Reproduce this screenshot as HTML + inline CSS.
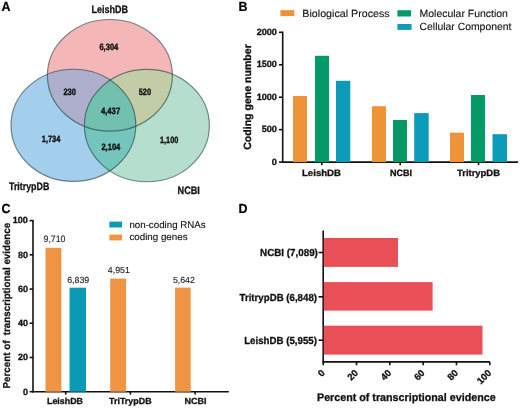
<!DOCTYPE html>
<html><head><meta charset="utf-8"><style>
html,body{margin:0;padding:0;background:#fff;}
svg{display:block;font-family:"Liberation Sans", sans-serif;will-change:transform;text-rendering:geometricPrecision;}
</style></head><body>
<svg width="520" height="408" viewBox="0 0 520 408">
<rect width="520" height="408" fill="#fff"/>
<defs>
<clipPath id="cp"><ellipse cx="109.9" cy="75.3" rx="62.5" ry="55.8" fill="#000" /></clipPath>
<clipPath id="cb"><ellipse cx="73.4" cy="125.3" rx="62.4" ry="56.1" fill="#000" /></clipPath>
<clipPath id="cg"><ellipse cx="146.9" cy="125.6" rx="62.5" ry="56.2" fill="#000" /></clipPath>
</defs>
<ellipse cx="109.9" cy="75.3" rx="62.5" ry="55.8" fill="#f5b6b7" />
<ellipse cx="73.4" cy="125.3" rx="62.4" ry="56.1" fill="#a3cfec" />
<ellipse cx="146.9" cy="125.6" rx="62.5" ry="56.2" fill="#b5dece" />
<g clip-path="url(#cp)"><ellipse cx="73.4" cy="125.3" rx="62.4" ry="56.1" fill="#adafcc" /><ellipse cx="146.9" cy="125.6" rx="62.5" ry="56.2" fill="#c2cca6" /></g>
<g clip-path="url(#cb)"><ellipse cx="146.9" cy="125.6" rx="62.5" ry="56.2" fill="#73c5be" /></g>
<g clip-path="url(#cp)"><g clip-path="url(#cb)"><ellipse cx="146.9" cy="125.6" rx="62.5" ry="56.2" fill="#72c0b0" /></g></g>
<ellipse cx="109.9" cy="75.3" rx="62.5" ry="55.8" fill="none" stroke="#1e3a40" stroke-opacity="0.6" stroke-width="1.15"/>
<ellipse cx="73.4" cy="125.3" rx="62.4" ry="56.1" fill="none" stroke="#1e3a40" stroke-opacity="0.6" stroke-width="1.15"/>
<ellipse cx="146.9" cy="125.6" rx="62.5" ry="56.2" fill="none" stroke="#1e3a40" stroke-opacity="0.6" stroke-width="1.15"/>
<text x="91.5" y="12.8" font-size="10.75" font-weight="bold" text-anchor="start" fill="#111" textLength="36.6" lengthAdjust="spacingAndGlyphs"  stroke="#111" stroke-width="0.3">LeishDB</text>
<text x="9.0" y="190.2" font-size="10.75" font-weight="bold" text-anchor="start" fill="#111" textLength="40.3" lengthAdjust="spacingAndGlyphs"  stroke="#111" stroke-width="0.3">TritrypDB</text>
<text x="177.6" y="194.2" font-size="10.75" font-weight="bold" text-anchor="start" fill="#111" textLength="22.3" lengthAdjust="spacingAndGlyphs"  stroke="#111" stroke-width="0.3">NCBI</text>
<text x="99.4" y="49.5" font-size="9.2" font-weight="bold" text-anchor="start" fill="#111" textLength="18.9" lengthAdjust="spacingAndGlyphs"  stroke="#111" stroke-width="0.4">6,304</text>
<text x="63.4" y="95.4" font-size="9.2" font-weight="bold" text-anchor="start" fill="#111" textLength="12.6" lengthAdjust="spacingAndGlyphs"  stroke="#111" stroke-width="0.4">230</text>
<text x="138.7" y="95.4" font-size="9.2" font-weight="bold" text-anchor="start" fill="#111" textLength="12.3" lengthAdjust="spacingAndGlyphs"  stroke="#111" stroke-width="0.4">520</text>
<text x="100.9" y="114.0" font-size="9.2" font-weight="bold" text-anchor="start" fill="#111" textLength="19.3" lengthAdjust="spacingAndGlyphs"  stroke="#111" stroke-width="0.4">4,437</text>
<text x="41.8" y="142.4" font-size="9.2" font-weight="bold" text-anchor="start" fill="#111" textLength="18.5" lengthAdjust="spacingAndGlyphs"  stroke="#111" stroke-width="0.4">1,734</text>
<text x="101.4" y="149.8" font-size="9.2" font-weight="bold" text-anchor="start" fill="#111" textLength="18.9" lengthAdjust="spacingAndGlyphs"  stroke="#111" stroke-width="0.4">2,104</text>
<text x="160.0" y="142.5" font-size="9.2" font-weight="bold" text-anchor="start" fill="#111" textLength="18.3" lengthAdjust="spacingAndGlyphs"  stroke="#111" stroke-width="0.4">1,100</text>
<text x="1.6" y="10.6" font-size="13.2" font-weight="bold" text-anchor="start" fill="#000" textLength="9.0" lengthAdjust="spacingAndGlyphs"  stroke="#000" stroke-width="0.2">A</text>
<text x="238.4" y="10.6" font-size="13.2" font-weight="bold" text-anchor="start" fill="#000" textLength="9.0" lengthAdjust="spacingAndGlyphs"  stroke="#000" stroke-width="0.2">B</text>
<text x="1.6" y="212.7" font-size="13.2" font-weight="bold" text-anchor="start" fill="#000" textLength="9.0" lengthAdjust="spacingAndGlyphs"  stroke="#000" stroke-width="0.2">C</text>
<text x="238.4" y="212.7" font-size="13.2" font-weight="bold" text-anchor="start" fill="#000" textLength="9.0" lengthAdjust="spacingAndGlyphs"  stroke="#000" stroke-width="0.2">D</text>
<line x1="282.7" y1="31.599999999999998" x2="282.7" y2="162.79999999999998" stroke="#111" stroke-width="1.6"/>
<line x1="282.0" y1="162.1" x2="518.0" y2="162.1" stroke="#111" stroke-width="1.6"/>
<line x1="279.0" y1="162.1" x2="282.7" y2="162.1" stroke="#111" stroke-width="1.6"/>
<text x="276.9" y="164.7" font-size="9.1" font-weight="bold" text-anchor="end" fill="#111"  stroke="#111" stroke-width="0.3">0</text>
<line x1="279.0" y1="129.64999999999998" x2="282.7" y2="129.64999999999998" stroke="#111" stroke-width="1.6"/>
<text x="276.9" y="132.24999999999997" font-size="9.1" font-weight="bold" text-anchor="end" fill="#111"  stroke="#111" stroke-width="0.3">500</text>
<line x1="279.0" y1="97.19999999999999" x2="282.7" y2="97.19999999999999" stroke="#111" stroke-width="1.6"/>
<text x="276.9" y="99.79999999999998" font-size="9.1" font-weight="bold" text-anchor="end" fill="#111"  stroke="#111" stroke-width="0.3">1000</text>
<line x1="279.0" y1="64.74999999999999" x2="282.7" y2="64.74999999999999" stroke="#111" stroke-width="1.6"/>
<text x="276.9" y="67.34999999999998" font-size="9.1" font-weight="bold" text-anchor="end" fill="#111"  stroke="#111" stroke-width="0.3">1500</text>
<line x1="279.0" y1="32.29999999999998" x2="282.7" y2="32.29999999999998" stroke="#111" stroke-width="1.6"/>
<text x="276.9" y="34.899999999999984" font-size="9.1" font-weight="bold" text-anchor="end" fill="#111"  stroke="#111" stroke-width="0.3">2000</text>
<line x1="321.8" y1="162.1" x2="321.8" y2="165.2" stroke="#111" stroke-width="1.6"/>
<line x1="400.2" y1="162.1" x2="400.2" y2="165.2" stroke="#111" stroke-width="1.6"/>
<line x1="478.5" y1="162.1" x2="478.5" y2="165.2" stroke="#111" stroke-width="1.6"/>
<rect x="293" y="96" width="14" height="66.1" fill="#ef9339"/>
<rect x="315" y="55.8" width="14" height="106.3" fill="#039a67"/>
<rect x="336" y="80.8" width="14.300000000000011" height="81.3" fill="#0c9cba"/>
<rect x="372" y="106.2" width="14" height="55.89999999999999" fill="#ef9339"/>
<rect x="393" y="120" width="14" height="42.099999999999994" fill="#039a67"/>
<rect x="414.2" y="113.1" width="14.5" height="49.0" fill="#0c9cba"/>
<rect x="450" y="132.7" width="14" height="29.400000000000006" fill="#ef9339"/>
<rect x="471" y="95" width="14" height="67.1" fill="#039a67"/>
<rect x="492.5" y="134.2" width="14.5" height="27.900000000000006" fill="#0c9cba"/>
<text x="302.0" y="175.5" font-size="9.2" font-weight="bold" text-anchor="start" fill="#111" textLength="39.0" lengthAdjust="spacingAndGlyphs"  stroke="#111" stroke-width="0.3">LeishDB</text>
<text x="390.0" y="175.5" font-size="9.2" font-weight="bold" text-anchor="start" fill="#111" textLength="22.0" lengthAdjust="spacingAndGlyphs"  stroke="#111" stroke-width="0.3">NCBI</text>
<text x="457.0" y="175.5" font-size="9.2" font-weight="bold" text-anchor="start" fill="#111" textLength="43.0" lengthAdjust="spacingAndGlyphs"  stroke="#111" stroke-width="0.3">TritrypDB</text>
<text x="250.9" y="97.0" font-size="10.5" font-weight="bold" text-anchor="middle" fill="#111" textLength="105.5" lengthAdjust="spacingAndGlyphs" transform="rotate(-90 250.9 97.0)" stroke="#111" stroke-width="0.3">Coding gene number</text>
<rect x="280.4" y="10.1" width="13.9" height="6.0" fill="#ef9339"/>
<text x="302.3" y="17.2" font-size="10.4" font-weight="normal" text-anchor="start" fill="#111" textLength="87.4" lengthAdjust="spacingAndGlyphs"  stroke="#111" stroke-width="0.12">Biological Process</text>
<rect x="397.4" y="10.2" width="13.7" height="6.3" fill="#039a67"/>
<text x="419.6" y="17.2" font-size="10.4" font-weight="normal" text-anchor="start" fill="#111" textLength="88.3" lengthAdjust="spacingAndGlyphs"  stroke="#111" stroke-width="0.12">Molecular Function</text>
<rect x="397.4" y="24.0" width="14.2" height="5.9" fill="#0c9cba"/>
<text x="419.6" y="30.2" font-size="10.4" font-weight="normal" text-anchor="start" fill="#111" textLength="91.8" lengthAdjust="spacingAndGlyphs"  stroke="#111" stroke-width="0.12">Cellular Component</text>
<line x1="33.0" y1="219.9" x2="33.0" y2="392.4" stroke="#111" stroke-width="1.6"/>
<line x1="32.3" y1="391.7" x2="228.8" y2="391.7" stroke="#111" stroke-width="1.6"/>
<line x1="29.6" y1="391.7" x2="33.0" y2="391.7" stroke="#111" stroke-width="1.6"/>
<text x="27.9" y="394.5" font-size="9.0" font-weight="bold" text-anchor="end" fill="#111"  stroke="#111" stroke-width="0.3">0</text>
<line x1="29.6" y1="357.48" x2="33.0" y2="357.48" stroke="#111" stroke-width="1.6"/>
<text x="27.9" y="360.28000000000003" font-size="9.0" font-weight="bold" text-anchor="end" fill="#111"  stroke="#111" stroke-width="0.3">20</text>
<line x1="29.6" y1="323.26" x2="33.0" y2="323.26" stroke="#111" stroke-width="1.6"/>
<text x="27.9" y="326.06" font-size="9.0" font-weight="bold" text-anchor="end" fill="#111"  stroke="#111" stroke-width="0.3">40</text>
<line x1="29.6" y1="289.03999999999996" x2="33.0" y2="289.03999999999996" stroke="#111" stroke-width="1.6"/>
<text x="27.9" y="291.84" font-size="9.0" font-weight="bold" text-anchor="end" fill="#111"  stroke="#111" stroke-width="0.3">60</text>
<line x1="29.6" y1="254.82" x2="33.0" y2="254.82" stroke="#111" stroke-width="1.6"/>
<text x="27.9" y="257.62" font-size="9.0" font-weight="bold" text-anchor="end" fill="#111"  stroke="#111" stroke-width="0.3">80</text>
<line x1="29.6" y1="220.6" x2="33.0" y2="220.6" stroke="#111" stroke-width="1.6"/>
<text x="27.9" y="223.4" font-size="9.0" font-weight="bold" text-anchor="end" fill="#111"  stroke="#111" stroke-width="0.3">100</text>
<line x1="65.7" y1="391.7" x2="65.7" y2="394.6" stroke="#111" stroke-width="1.6"/>
<line x1="130.4" y1="391.7" x2="130.4" y2="394.6" stroke="#111" stroke-width="1.6"/>
<line x1="195.1" y1="391.7" x2="195.1" y2="394.6" stroke="#111" stroke-width="1.6"/>
<rect x="45.5" y="247.8" width="15.899999999999999" height="143.89999999999998" fill="#ef9442"/>
<rect x="69.5" y="287.7" width="16.5" height="104.0" fill="#0a9ab6"/>
<rect x="110.2" y="278.6" width="15.899999999999991" height="113.09999999999997" fill="#ef9442"/>
<rect x="175.1" y="287.6" width="15.599999999999994" height="104.09999999999997" fill="#ef9442"/>
<text x="43.5" y="242.1" font-size="9.2" font-weight="normal" text-anchor="start" fill="#222" textLength="22.0176" lengthAdjust="spacingAndGlyphs"  stroke="#222" stroke-width="0.12">9,710</text>
<text x="67.2" y="283.0" font-size="8.8" font-weight="normal" text-anchor="start" fill="#222" textLength="22.0176" lengthAdjust="spacingAndGlyphs"  stroke="#222" stroke-width="0.12">6,839</text>
<text x="107.8" y="272.9" font-size="8.8" font-weight="normal" text-anchor="start" fill="#222" textLength="22.0176" lengthAdjust="spacingAndGlyphs"  stroke="#222" stroke-width="0.12">4,951</text>
<text x="172.9" y="282.7" font-size="8.8" font-weight="normal" text-anchor="start" fill="#222" textLength="22.0176" lengthAdjust="spacingAndGlyphs"  stroke="#222" stroke-width="0.12">5,642</text>
<text x="47.0" y="404.4" font-size="8.8" font-weight="bold" text-anchor="start" fill="#111" textLength="36.0" lengthAdjust="spacingAndGlyphs"  stroke="#111" stroke-width="0.3">LeishDB</text>
<text x="109.0" y="404.4" font-size="8.8" font-weight="bold" text-anchor="start" fill="#111" textLength="42.6" lengthAdjust="spacingAndGlyphs"  stroke="#111" stroke-width="0.3">TriTrypDB</text>
<text x="184.5" y="404.4" font-size="8.8" font-weight="bold" text-anchor="start" fill="#111" textLength="22.0" lengthAdjust="spacingAndGlyphs"  stroke="#111" stroke-width="0.3">NCBI</text>
<text x="10.2" y="305.6" font-size="10.0" font-weight="bold" text-anchor="middle" fill="#111" textLength="165.6" lengthAdjust="spacingAndGlyphs" transform="rotate(-90 10.2 305.6)" stroke="#111" stroke-width="0.3">Percent of&#160;&#160;transcriptional evidence</text>
<rect x="109.4" y="221.6" width="12.7" height="5.9" fill="#0a9ab6"/>
<text x="129.4" y="228.3" font-size="9.7" font-weight="normal" text-anchor="start" fill="#111" textLength="76.3" lengthAdjust="spacingAndGlyphs"  stroke="#111" stroke-width="0.12">non-coding RNAs</text>
<rect x="109.4" y="234.6" width="12.7" height="5.8" fill="#ef9442"/>
<text x="129.4" y="239.8" font-size="9.7" font-weight="normal" text-anchor="start" fill="#111" textLength="58.2" lengthAdjust="spacingAndGlyphs"  stroke="#111" stroke-width="0.12">coding genes</text>
<line x1="323.2" y1="230.4" x2="323.2" y2="362.5" stroke="#111" stroke-width="1.6"/>
<line x1="322.59999999999997" y1="361.9" x2="489.9" y2="361.9" stroke="#111" stroke-width="1.6"/>
<rect x="323.8" y="238" width="74.20000000000002" height="28.899999999999977" fill="#e84f57"/>
<rect x="323.8" y="282.1" width="108.80000000000004" height="28.5" fill="#e84f57"/>
<rect x="323.8" y="325.7" width="158.70000000000002" height="28.900000000000034" fill="#e84f57"/>
<line x1="318.6" y1="252.5" x2="323.2" y2="252.5" stroke="#111" stroke-width="1.6"/>
<text x="260.1" y="256.1" font-size="10.2" font-weight="bold" text-anchor="start" fill="#111" textLength="57.8" lengthAdjust="spacingAndGlyphs"  stroke="#111" stroke-width="0.3">NCBI (7,089)</text>
<line x1="318.6" y1="296.8" x2="323.2" y2="296.8" stroke="#111" stroke-width="1.6"/>
<text x="239.5" y="300.7" font-size="10.2" font-weight="bold" text-anchor="start" fill="#111" textLength="77.5" lengthAdjust="spacingAndGlyphs"  stroke="#111" stroke-width="0.3">TritrypDB (6,848)</text>
<line x1="318.6" y1="340.2" x2="323.2" y2="340.2" stroke="#111" stroke-width="1.6"/>
<text x="244.2" y="344.2" font-size="10.2" font-weight="bold" text-anchor="start" fill="#111" textLength="72.8" lengthAdjust="spacingAndGlyphs"  stroke="#111" stroke-width="0.3">LeishDB (5,955)</text>
<line x1="323.2" y1="361.9" x2="323.2" y2="365.3" stroke="#111" stroke-width="1.6"/>
<text x="325.4" y="373.5" font-size="9.5" font-weight="bold" text-anchor="end" fill="#111" transform="rotate(-45 325.4 373.5)" stroke="#111" stroke-width="0.3">0</text>
<line x1="356.52" y1="361.9" x2="356.52" y2="365.3" stroke="#111" stroke-width="1.6"/>
<text x="358.71999999999997" y="373.5" font-size="9.5" font-weight="bold" text-anchor="end" fill="#111" transform="rotate(-45 358.71999999999997 373.5)" stroke="#111" stroke-width="0.3">20</text>
<line x1="389.84" y1="361.9" x2="389.84" y2="365.3" stroke="#111" stroke-width="1.6"/>
<text x="392.03999999999996" y="373.5" font-size="9.5" font-weight="bold" text-anchor="end" fill="#111" transform="rotate(-45 392.03999999999996 373.5)" stroke="#111" stroke-width="0.3">40</text>
<line x1="423.15999999999997" y1="361.9" x2="423.15999999999997" y2="365.3" stroke="#111" stroke-width="1.6"/>
<text x="425.35999999999996" y="373.5" font-size="9.5" font-weight="bold" text-anchor="end" fill="#111" transform="rotate(-45 425.35999999999996 373.5)" stroke="#111" stroke-width="0.3">60</text>
<line x1="456.48" y1="361.9" x2="456.48" y2="365.3" stroke="#111" stroke-width="1.6"/>
<text x="458.68" y="373.5" font-size="9.5" font-weight="bold" text-anchor="end" fill="#111" transform="rotate(-45 458.68 373.5)" stroke="#111" stroke-width="0.3">80</text>
<line x1="489.79999999999995" y1="361.9" x2="489.79999999999995" y2="365.3" stroke="#111" stroke-width="1.6"/>
<text x="491.99999999999994" y="373.5" font-size="9.5" font-weight="bold" text-anchor="end" fill="#111" transform="rotate(-45 491.99999999999994 373.5)" stroke="#111" stroke-width="0.3">100</text>
<text x="317.0" y="401.3" font-size="11" font-weight="bold" text-anchor="start" fill="#111" textLength="178.6" lengthAdjust="spacingAndGlyphs"  stroke="#111" stroke-width="0.3">Percent of transcriptional evidence</text>
</svg>
</body></html>
